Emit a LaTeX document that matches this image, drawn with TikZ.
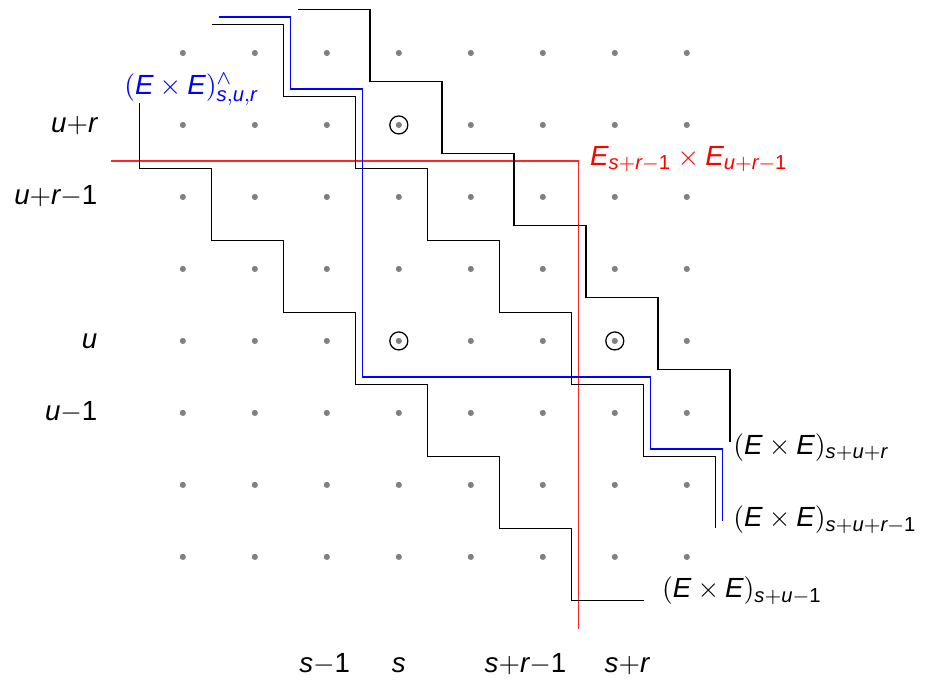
\documentclass[tikz,border=0pt,11pt]{standalone}
\usepackage{amsmath}
\usepackage{fontspec}
\setmainfont{Liberation Sans}
\usetikzlibrary{positioning}

\newcommand{\vr}[1]{\text{\itshape #1}}
\newcommand{\one}{\text{1}}
\newcommand{\ExE}{(\vr{E}\times\vr{E})}

\begin{document}
\begin{tikzpicture}[
    latt/.style={circle, fill=black!50, inner sep=0pt, minimum size=0.85mm},
    ring/.style={circle, draw=black, line width=0.5pt, inner sep=0pt, minimum size=2.5mm},
    stair/.style={draw=black, line width=0.45pt},
    lbl/.style={inner sep=0pt, anchor=base west}
  ]
  \useasboundingbox (-2.54,-1.722) rectangle (10.42,7.736);

  \foreach \i in {0,...,7}
    \foreach \j in {0,...,7}
      \node[latt] (p\i\j) at (\i,\j) {};

  \node[ring] (c1) at (p36) {};
  \node[ring] (c2) at (p33) {};
  \node[ring] (c3) at (p63) {};

  \node[anchor=base east, inner sep=0pt] (ur)  at (-1.18,5.89) {$\vr{u}{+}\vr{r}$};
  \node[anchor=base east, inner sep=0pt] (ur1) at (-1.18,4.89) {$\vr{u}{+}\vr{r}{-}\one$};
  \node[anchor=base east, inner sep=0pt] (u)   at (-1.18,2.89) {$\vr{u}$};
  \node[anchor=base east, inner sep=0pt] (u1)  at (-1.18,1.89) {$\vr{u}{-}\one$};

  \node[anchor=base, inner sep=0pt] (s1)  at (1.97,-1.61) {$\vr{s}{-}\one$};
  \node[anchor=base, inner sep=0pt] (s)   at (3.0,-1.61)  {$\vr{s}$};
  \node[anchor=base, inner sep=0pt] (sr1) at (4.76,-1.61) {$\vr{s}{+}\vr{r}{-}\one$};
  \node[anchor=base, inner sep=0pt] (sr)  at (6.17,-1.61) {$\vr{s}{+}\vr{r}$};

  \draw[red!85, line width=0.45pt] (-1,5.5) -- (5.5,5.5) -- (5.5,-1);
  \node[lbl, text=red] (prod) at (5.65,5.44)
    {$\vr{E}_{\vr{s}+\vr{r}-\one}\times\vr{E}_{\vr{u}+\vr{r}-\one}$};

  \draw[stair] (1.6,7.6) \foreach \k in {1,...,6} { -- ++(1,0) -- ++(0,-1) };
  \draw[stair] (0.4,7.4) \foreach \k in {1,...,7} { -- ++(1,0) -- ++(0,-1) };
  \draw[stair] (-0.6,6.3) -- (-0.6,5.4) \foreach \k in {1,...,6} { -- ++(1,0) -- ++(0,-1) } -- ++(1,0);
  \draw[blue, line width=0.45pt] (0.5,7.5) -- (1.5,7.5) -- (1.5,6.5) -- (2.5,6.5) -- (2.5,2.5)
    -- (6.5,2.5) -- (6.5,1.5) -- (7.5,1.5) -- (7.5,0.5);

  \node[lbl] (top) at (7.64,1.42) {$\ExE_{\vr{s}+\vr{u}+\vr{r}}$};
  \node[lbl] (mid) at (7.64,0.42) {$\ExE_{\vr{s}+\vr{u}+\vr{r}-\one}$};
  \node[lbl] (low) at (6.65,-0.57) {$\ExE_{\vr{s}+\vr{u}-\one}$};
  \node[lbl, text=blue] (wedge) at (-0.82,6.42)
    {$\ExE^{\wedge}_{\vr{s},\vr{u},\vr{r}}$};
\end{tikzpicture}
\end{document}
